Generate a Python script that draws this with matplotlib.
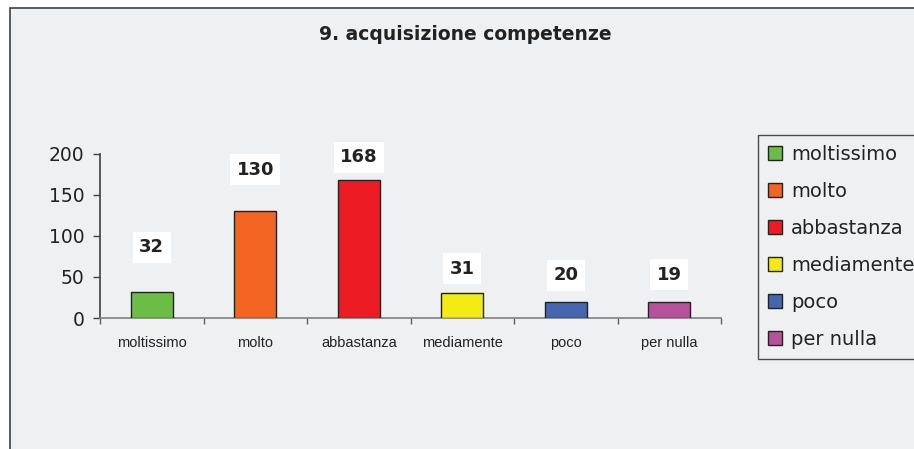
import matplotlib.pyplot as plt
from matplotlib.patches import Rectangle, Patch

# dati
categorie = ["moltissimo", "molto", "abbastanza", "mediamente", "poco", "per nulla"]
valori = [32, 130, 168, 31, 20, 19]
colori = ["#6CBD45", "#F26522", "#ED1C24", "#F4EB14", "#4565AE", "#B8519A"]
titolo = "9. acquisizione competenze"

# scostamento delle etichette sopra le barre (unita' dati)
offset_etichette = [54, 51, 28, 29, 32, 34]

W, H = 914, 449
fig = plt.figure(figsize=(W / 100, H / 100), dpi=100)
fig.patch.set_facecolor("white")

# cornice del grafico
fig.patches.append(Rectangle((10 / W, -0.1), 1.2, 1 - 8 / H + 0.1,
                             transform=fig.transFigure, facecolor="#EFF0F2",
                             edgecolor="#404040", linewidth=1.2, zorder=-10))

ax = fig.add_axes([100 / W, 1 - 318 / H, 621 / W, 164 / H])
ax.set_facecolor("none")

x = list(range(len(categorie)))
ax.bar(x, valori, width=0.41, color=colori, edgecolor="#222222", linewidth=1.0, zorder=3)

for xi, v, off in zip(x, valori, offset_etichette):
    ax.text(xi, v + off, str(v), ha="center", va="center", fontsize=13,
            fontweight="bold", color="#222222",
            bbox=dict(facecolor="white", edgecolor="none", pad=4.5))

ax.set_xlim(-0.5, len(categorie) - 0.5)
ax.set_ylim(0, 200)
ax.set_yticks([0, 50, 100, 150, 200])
ax.tick_params(axis="y", labelsize=13.5, colors="#222222", length=5, width=1,
               color="#404040", direction="out", pad=6)

ax.set_xticks(x)
ax.set_xticklabels(categorie, fontsize=10.5, color="#222222",
                   family="Liberation Sans")
ax.set_xticks([i - 0.5 for i in range(len(categorie) + 1)], minor=True)
ax.tick_params(axis="x", which="major", length=0, pad=13)
ax.tick_params(axis="x", which="minor", length=4, width=1, color="#606060",
               direction="out")

for lato in ["top", "right"]:
    ax.spines[lato].set_visible(False)
ax.spines["left"].set_color("#404040")
ax.spines["bottom"].set_color("#808080")
for lato in ["left", "bottom"]:
    ax.spines[lato].set_linewidth(1.2)

fig.text(465 / W, 1 - 35 / H, titolo, ha="center", va="center",
         fontsize=13.5, fontweight="bold", color="#222222")

maniglie = [Patch(facecolor=c, edgecolor="#222222", linewidth=1) for c in colori]
leg = fig.legend(maniglie, categorie, loc="upper left",
                 bbox_to_anchor=(758 / W, 1 - 135 / H), fontsize=14,
                 frameon=True, fancybox=False, handlelength=0.75, handleheight=0.75,
                 handletextpad=0.45, labelspacing=0.93, borderpad=0.5,
                 borderaxespad=0)
leg.get_frame().set_edgecolor("#222222")
leg.get_frame().set_facecolor("#EFF0F2")
leg.get_frame().set_linewidth(1.0)
for t in leg.get_texts():
    t.set_color("#222222")

fig.savefig("out.png", dpi=100)
